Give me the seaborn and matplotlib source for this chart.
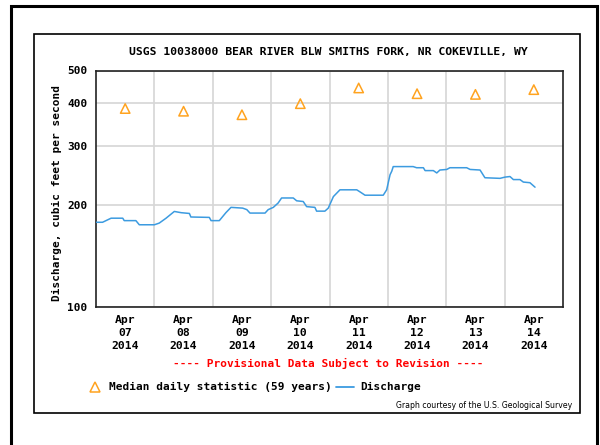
import matplotlib
matplotlib.use("Agg")
import matplotlib.pyplot as plt
from matplotlib.lines import Line2D
from matplotlib.patches import Rectangle
from matplotlib.ticker import FixedLocator, FixedFormatter, NullLocator
import seaborn as sns
import pandas as pd

# ---- data -------------------------------------------------------------
start = pd.Timestamp("2014-04-07 00:00")

# discharge readings: hours after start, cubic feet per second
flow_hours = [0, 2.7, 6.2, 11, 11.6, 16.4, 17.8, 24, 26, 28.8, 32.2, 35, 38.4,
              39, 46.6, 47.3, 50.7, 53.4, 55.5, 60.3, 62, 63.3, 69.5, 70.8,
              72.9, 74.9, 76.3, 81.1, 82.5, 85.2, 86.6, 90, 90.7, 94.1, 95.5,
              97.6, 100.3, 107.2, 108.5, 110.6, 118.1, 119.5, 120.9, 121.6,
              122.2, 130.4, 131.8, 134.6, 135.3, 138.7, 140.1, 141.4, 144.2,
              145.5, 152.4, 153.8, 157.9, 159.9, 166.1, 168.1, 170.2, 171.6,
              174.3, 175.7, 178.4, 180.5]
flow_cfs = [178, 178, 183, 183, 180, 180, 175, 175, 177, 183, 191.6, 190, 189,
            184.5, 184, 180, 180, 190, 197, 196, 194, 189.5, 189.5, 194,
            197, 203, 210, 210, 206, 205, 198, 197, 192, 192, 196,
            212, 222, 222, 219, 214, 214, 222, 246, 252,
            260, 260, 258, 258, 253, 253, 249, 254, 255,
            258, 258, 255, 254, 241, 240, 242, 243, 238,
            238, 234, 233, 226]

# median daily statistic (59 years), one value per day
median_days = ["2014-04-07", "2014-04-08", "2014-04-09", "2014-04-10",
               "2014-04-11", "2014-04-12", "2014-04-13", "2014-04-14"]
median_cfs = [386, 379, 370, 399, 444, 427, 425, 439]

y_ticks = [100, 200, 300, 400, 500]
y_tick_labels = ["100", "200", "300", "400", "500"]
x_tick_labels = ["Apr\n07\n2014", "Apr\n08\n2014", "Apr\n09\n2014",
                 "Apr\n10\n2014", "Apr\n11\n2014", "Apr\n12\n2014",
                 "Apr\n13\n2014", "Apr\n14\n2014"]

flow = pd.DataFrame({
    "time": start + pd.to_timedelta(flow_hours, unit="h"),
    "cfs": flow_cfs,
})
medians = pd.DataFrame({
    "time": pd.to_datetime(median_days) + pd.Timedelta(hours=12),
    "cfs": median_cfs,
})

# ---- styling ----------------------------------------------------------
sns.set_style("white")
plt.rcParams["font.family"] = ["DejaVu Sans Mono", "DejaVu Sans"]
plt.rcParams["text.color"] = "black"
plt.rcParams["xtick.color"] = "black"
plt.rcParams["ytick.color"] = "black"

W, H = 600, 445
fig = plt.figure(figsize=(W / 100, H / 100), dpi=100)


def fx(x):
    return x / W


def fy(y):
    return 1 - y / H


LINE = "#3c9be0"
ORANGE = "#ffa31f"
GRID = "#d6d6d6"

ax = fig.add_axes([fx(96), fy(307), fx(563) - fx(96), fy(70.5) - fy(307)])

sns.lineplot(data=flow, x="time", y="cfs", ax=ax, color=LINE, lw=1.1,
             legend=False, zorder=3)
sns.scatterplot(data=medians, x="time", y="cfs", ax=ax, marker="^", s=46,
                facecolor="none", edgecolor=ORANGE, linewidth=1.1,
                legend=False, zorder=4)

ax.set_yscale("log")
ax.set_ylim(100, 500)
ax.set_xlim(start, start + pd.Timedelta(days=8))

ax.yaxis.set_major_locator(FixedLocator(y_ticks))
ax.yaxis.set_major_formatter(FixedFormatter(y_tick_labels))
ax.yaxis.set_minor_locator(NullLocator())

noon = [start + pd.Timedelta(hours=12 + 24 * i) for i in range(8)]
midnight = [start + pd.Timedelta(days=i) for i in range(1, 8)]
ax.set_xticks(noon)
ax.set_xticklabels(x_tick_labels, linespacing=1.35)
ax.set_xticks(midnight, minor=True)

ax.grid(False)
ax.grid(True, which="major", axis="y", color=GRID, lw=1.2, zorder=0)
ax.grid(True, which="minor", axis="x", color=GRID, lw=1.2, zorder=0)
ax.set_axisbelow(True)

ax.tick_params(axis="both", which="both", length=0)
ax.tick_params(axis="y", pad=6, labelsize=8)
ax.tick_params(axis="x", pad=6, labelsize=8.2)
for lab in ax.get_xticklabels() + ax.get_yticklabels():
    lab.set_fontweight("bold")

for s in ax.spines.values():
    s.set_color("#222222")
    s.set_linewidth(1.2)

ax.set_xlabel("")
ax.set_ylabel("")

# ---- text around the plot ---------------------------------------------
fig.text(fx(328), fy(52), "USGS 10038000 BEAR RIVER BLW SMITHS FORK, NR COKEVILLE, WY",
         ha="center", va="center", fontsize=8.2, fontweight="bold")
fig.text(fx(57), fy(193), "Discharge, cubic feet per second", rotation=90,
         ha="center", va="center", fontsize=8, fontweight="bold")
fig.text(fx(328), fy(363), "---- Provisional Data Subject to Revision ----",
         ha="center", va="center", fontsize=8, fontweight="bold", color="#ff0000")

# legend row
fig.add_artist(Line2D([fx(95)], [fy(387)], transform=fig.transFigure,
                      marker="^", ms=6.5, mfc="none", mec=ORANGE, mew=1.1, ls="none"))
fig.text(fx(109), fy(387), "Median daily statistic (59 years)",
         ha="left", va="center", fontsize=8, fontweight="bold")
fig.add_artist(Line2D([fx(336), fx(354)], [fy(387), fy(387)],
                      transform=fig.transFigure, color=LINE, lw=1.3))
fig.text(fx(360), fy(387), "Discharge",
         ha="left", va="center", fontsize=8, fontweight="bold")

fig.text(fx(572), fy(405), "Graph courtesy of the U.S. Geological Survey",
         ha="right", va="center", fontsize=5.6, family="DejaVu Sans")

# frames
fig.add_artist(Rectangle((fx(34), fy(413)), fx(580) - fx(34), fy(34) - fy(413),
                         transform=fig.transFigure, fill=False,
                         ec="black", lw=1.2))
fig.add_artist(Rectangle((fx(11), fy(460)), fx(597) - fx(11), fy(6) - fy(460),
                         transform=fig.transFigure, fill=False,
                         ec="black", lw=2.2))

fig.savefig("out.png", dpi=100)
